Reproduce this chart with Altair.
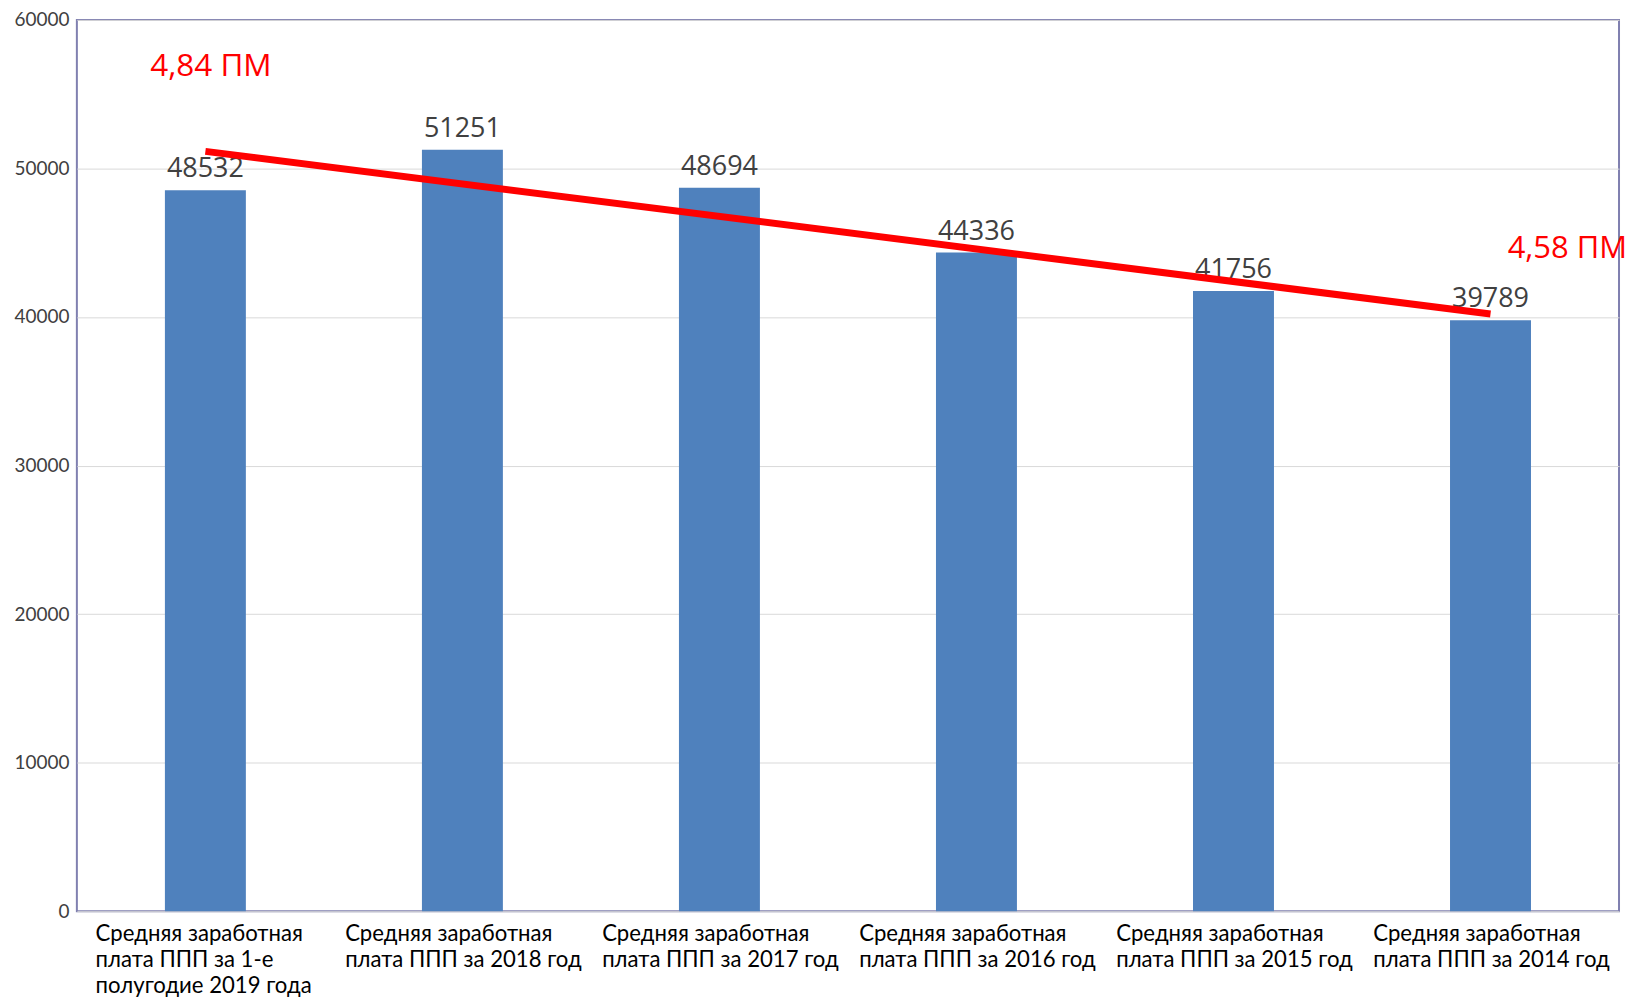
import altair as alt
import pandas as pd

categories = [
    "Средняя заработная\nплата ППП за 1-е\nполугодие 2019 года",
    "Средняя заработная\nплата ППП за 2018 год",
    "Средняя заработная\nплата ППП за 2017 год",
    "Средняя заработная\nплата ППП за 2016 год",
    "Средняя заработная\nплата ППП за 2015 год",
    "Средняя заработная\nплата ППП за 2014 год",
]
salaries = [48532, 51251, 48694, 44336, 41756, 39789]

trend_categories = [categories[0], categories[-1]]
trend_values = [51150, 40200]

note_texts = ["4,84 ПМ", "4,58 ПМ"]
note_categories = [categories[0], categories[-1]]
note_values = [56850, 44550]

y_ticks = [0, 10000, 20000, 30000, 40000, 50000, 60000]

bars_df = pd.DataFrame({"cat": categories, "value": salaries})
trend_df = pd.DataFrame({"cat": trend_categories, "value": trend_values})
note1_df = pd.DataFrame({"cat": [note_categories[0]], "value": [note_values[0]], "text": [note_texts[0]]})
note2_df = pd.DataFrame({"cat": [note_categories[1]], "value": [note_values[1]], "text": [note_texts[1]]})

x_enc = alt.X(
    "cat:N",
    sort=categories,
    scale=alt.Scale(domain=categories, paddingInner=0, paddingOuter=0),
    axis=alt.Axis(
        title=None,
        domain=False,
        ticks=False,
        labelAngle=0,
        labelAlign="left",
        labelBaseline="top",
        labelFont="Lato",
        labelFontSize=22.2,
        labelColor="#000000",
        labelLineHeight=26,
        labelPadding=11,
        labelLimit=400,
        labelOffset={"condition": {"test": "datum.index === 0", "value": -110}, "value": -117.5},
        labelExpr="split(datum.label, '\\n')",
    ),
)
y_enc = alt.Y(
    "value:Q",
    scale=alt.Scale(domain=[0, 60000], nice=False),
    axis=alt.Axis(
        title=None,
        values=y_ticks,
        format="d",
        domain=False,
        ticks=False,
        grid=True,
        gridColor="#d9d9d9",
        gridWidth=1,
        labelFont="Lato",
        labelFontSize=19,
        labelColor="#404040",
        labelPadding=8,
    ),
)

bars = alt.Chart(bars_df).mark_bar(
    width=alt.RelativeBandSize(0.315), color="#4f81bd"
).encode(x=x_enc, y=y_enc)

labels = alt.Chart(bars_df).mark_text(
    font="Open Sans", fontSize=27, color="#404040", baseline="alphabetic", dy=-13
).encode(x=alt.X("cat:N", sort=categories), y="value:Q", text=alt.Text("value:Q", format="d"))

trend = alt.Chart(trend_df).mark_line(
    color="#ff0000", strokeWidth=7, strokeCap="butt"
).encode(x=alt.X("cat:N", sort=categories), y="value:Q")

note1 = alt.Chart(note1_df).mark_text(
    font="Open Sans", fontSize=31.5, color="#ff0000", baseline="middle", align="center", dx=5.5
).encode(x=alt.X("cat:N", sort=categories), y="value:Q", text="text:N")

note2 = alt.Chart(note2_df).mark_text(
    font="Open Sans", fontSize=31, color="#ff0000", baseline="middle", align="center", dx=77
).encode(x=alt.X("cat:N", sort=categories), y="value:Q", text="text:N")

chart = alt.layer(bars, labels, trend, note1, note2).properties(
    width=1545,
    height=893,
    autosize=alt.AutoSizeParams(type="none"),
    padding={"left": 69, "top": 11, "right": 9, "bottom": 85},
    background="#ffffff",
).configure_view(stroke="#8080b0", strokeWidth=2)

chart.save("out.html", embed_options={"renderer": "svg", "actions": False})
